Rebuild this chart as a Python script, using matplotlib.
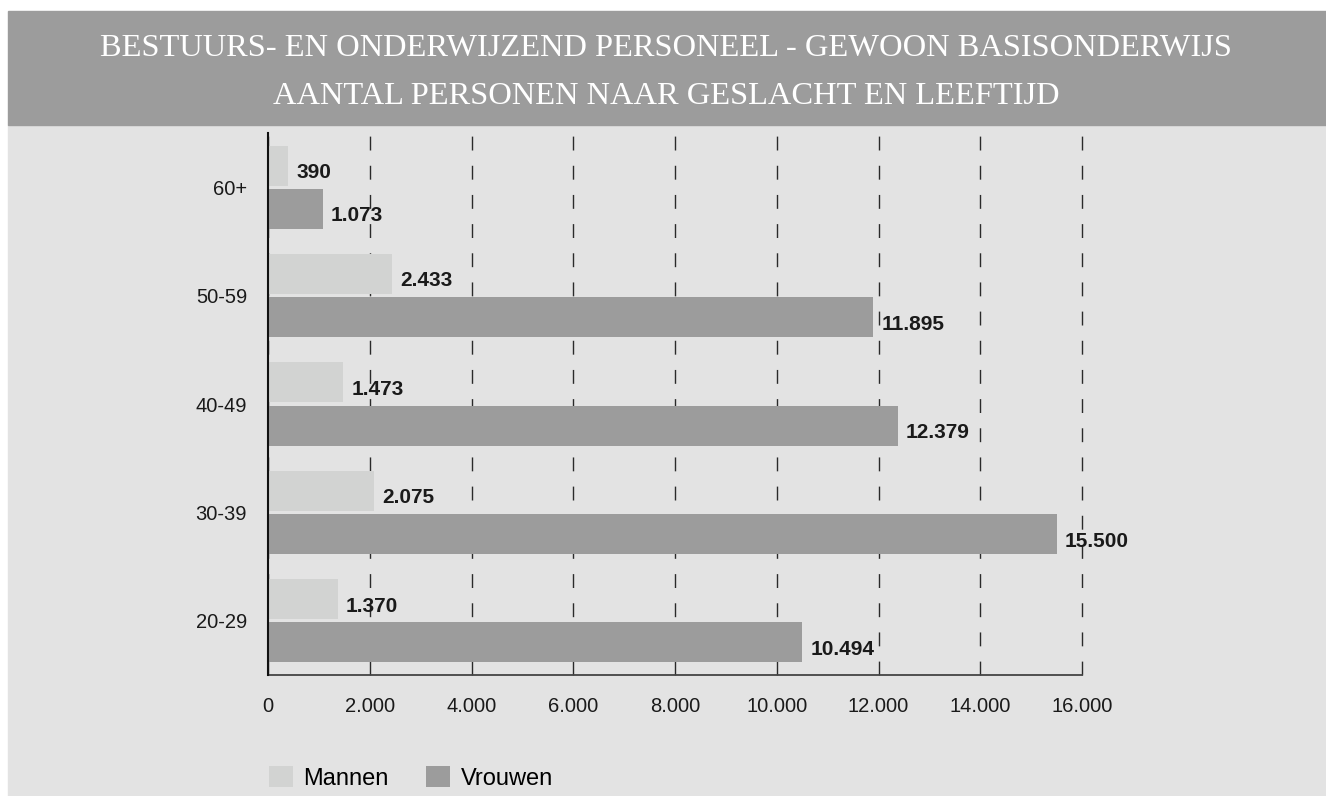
import matplotlib.pyplot as plt
import matplotlib.patches as mpatches
from matplotlib.ticker import FuncFormatter
import numpy as np

# data (bottom to top)
age_groups = ['20-29', '30-39', '40-49', '50-59', '60+']
mannen = [1370, 2075, 1473, 2433, 390]
vrouwen = [10494, 15500, 12379, 11895, 1073]
series_names = ['Mannen', 'Vrouwen']
title_lines = ['BESTUURS- EN ONDERWIJZEND PERSONEEL - GEWOON BASISONDERWIJS',
               'AANTAL PERSONEN NAAR GESLACHT EN LEEFTIJD']

c_man = '#d2d3d2'
c_vrouw = '#9c9c9c'
c_bg = '#e3e3e3'
c_band = '#9c9c9c'

plt.rcParams['font.family'] = ['Liberation Sans', 'DejaVu Sans']

W, H = 1326, 796
fig = plt.figure(figsize=(W / 100, H / 100), dpi=100, facecolor='white')

# background panels
fig.patches.append(mpatches.Rectangle((8 / W, 0), 1 - 8 / W, 1 - 125 / H,
                                      transform=fig.transFigure, color=c_bg, zorder=-5))
fig.patches.append(mpatches.Rectangle((8 / W, 1 - 125 / H), 1 - 8 / W, 114 / H,
                                      transform=fig.transFigure, color=c_band, zorder=-5))

for i, line in enumerate(title_lines):
    fig.text(0.5025, 1 - (49 + 47.5 * i) / H, line, ha='center', va='center',
             color='white', fontsize=23.4, family=['Liberation Serif', 'DejaVu Serif'])

ax = fig.add_axes([268 / W, 1 - 675 / H, (1082 - 268) / W, (675 - 133) / H])
ax.patch.set_alpha(0)

y = np.arange(len(age_groups))
h = 0.369
off = 0.2
b1 = ax.barh(y + off, mannen, h, color=c_man, label=series_names[0], zorder=2)
b2 = ax.barh(y - off, vrouwen, h, color=c_vrouw, label=series_names[1], zorder=2)

def fmt(v, pos=None):
    return f'{v:,.0f}'.replace(',', '.')

for bars in (b1, b2):
    for bar in bars:
        w = bar.get_width()
        ax.annotate(fmt(w), (w, bar.get_y() + bar.get_height() / 2),
                    xytext=(6, -5), textcoords='offset points',
                    ha='left', va='center', fontsize=15, fontweight='bold',
                    color='#1a1a1a', zorder=3)

ax.set_xlim(0, 16000)
ax.set_ylim(-0.5, len(age_groups) - 0.5)
ax.set_xticks(np.arange(0, 16001, 2000))
ax.xaxis.set_major_formatter(FuncFormatter(fmt))
ax.set_yticks(y)
ax.set_yticklabels(age_groups)
ax.tick_params(axis='x', length=0, pad=16, labelsize=14.5, colors='#1a1a1a')
ax.tick_params(axis='y', length=0, pad=15, labelsize=14.5, colors='#1a1a1a')

ax.xaxis.grid(True, linestyle=(0, (10, 11)), color='#2a2a2a', linewidth=1.0, zorder=1)
ax.set_axisbelow(True)
for gl in ax.get_xgridlines():
    gl.set_clip_on(False)

for s in ['top', 'right']:
    ax.spines[s].set_visible(False)
ax.spines['left'].set_color('#111111')
ax.spines['left'].set_linewidth(1.5)
ax.spines['bottom'].set_color('#444444')
ax.spines['bottom'].set_linewidth(1.3)
ax.spines['left'].set_zorder(4)

fig.legend(handles=[b1, b2], loc='center left', bbox_to_anchor=(269 / W, 1 - 778 / H),
           ncol=2, frameon=False, fontsize=17, handlelength=1.0, handleheight=1.0,
           handletextpad=0.45, columnspacing=1.6, borderpad=0, borderaxespad=0)

fig.savefig('out.png', dpi=100, facecolor='white')
